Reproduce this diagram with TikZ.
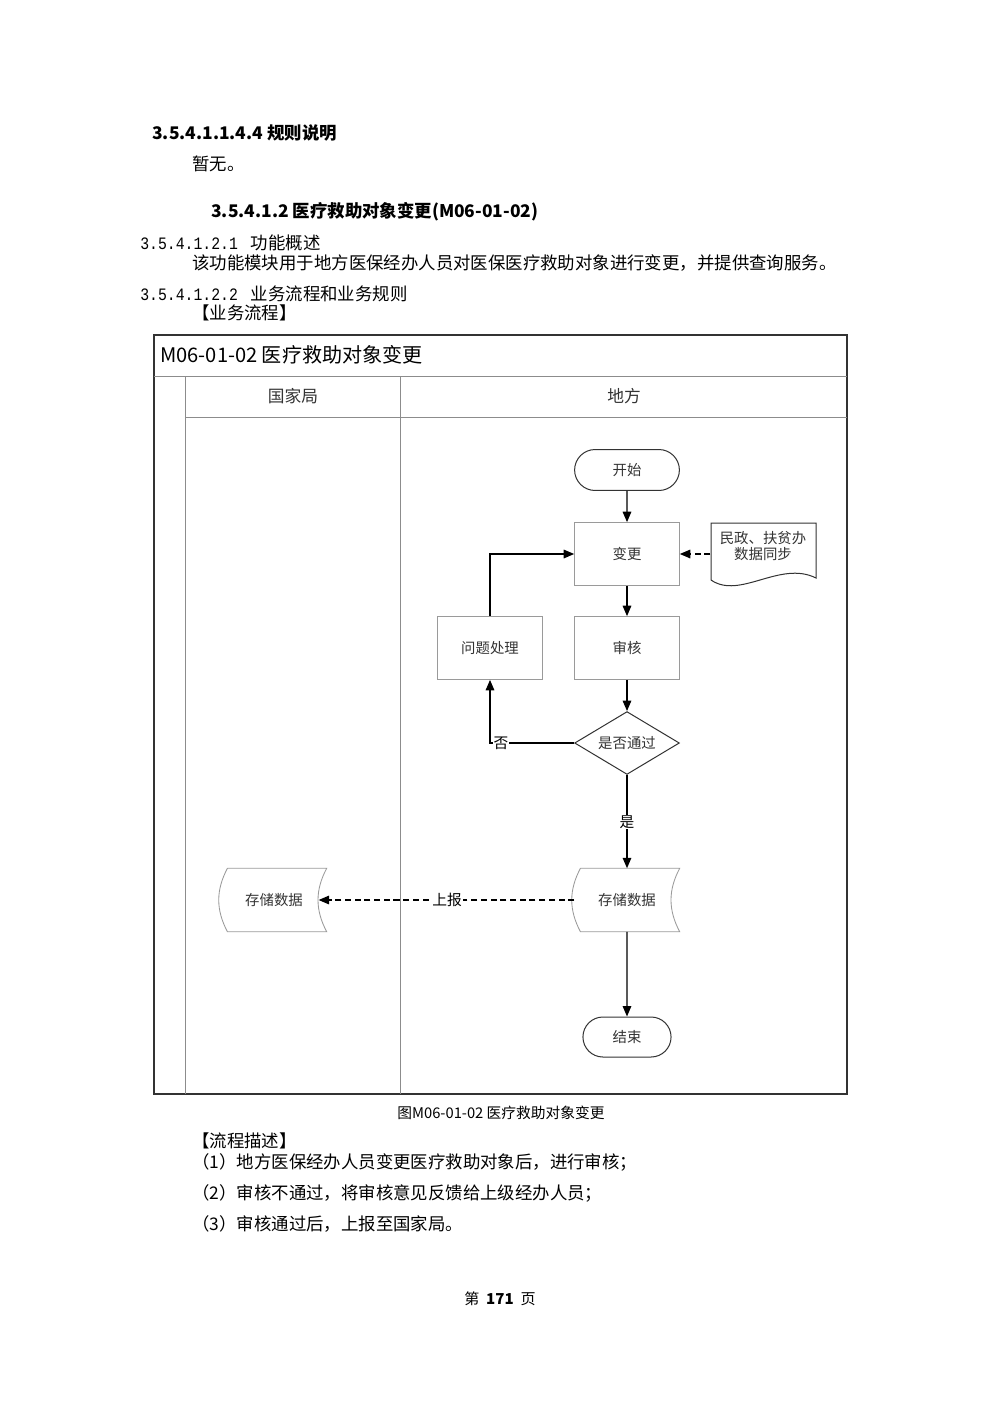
\documentclass[tikz,border=0pt]{standalone}
\usepackage{fontspec}
\setmainfont{Noto Sans CJK SC}
\newfontfamily\numfont[FakeStretch=0.85]{Liberation Mono}
\usetikzlibrary{shapes.geometric,shapes.misc,arrows.meta}

\definecolor{boxgray}{HTML}{9A9A9A}
\definecolor{lanegray}{HTML}{8C8C8C}
\definecolor{inkgray}{HTML}{333333}

% stored data outline round a node
\newcommand{\storeshape}[1]{%
  \draw[storeline] ([xshift=0.13cm]#1.north west) -- (#1.north east)
    to[bend right=28] (#1.south east) -- ([xshift=0.13cm]#1.south west)
    to[bend left=28] ([xshift=0.13cm]#1.north west);}

\begin{document}
\begin{tikzpicture}[x=0.021cm, y=-0.021cm, every node/.style={inner sep=0pt}]
\useasboundingbox[fill=white] (0,0) rectangle (1000,1415);
\tikzset{txt/.style={anchor=west, font=\fontsize{10.4}{12}\selectfont}}
\tikzset{small/.style={font=\fontsize{8.6}{10}\selectfont, text=inkgray}}

% page text
\node[txt, font=\fontsize{10.4}{12}\selectfont\bfseries] (h1) at (152,133) {3.5.4.1.1.4.4 规则说明};
\node[txt] (p1) at (192,164) {暂无。};
\node[txt, font=\fontsize{10.4}{12}\selectfont\bfseries] (h2) at (211,212) {3.5.4.1.2 医疗救助对象变更(M06-01-02)};
\node[txt] (h3) at (140,243) {{\numfont 3.5.4.1.2.1}\hspace{0.27cm}功能概述};
\node[txt] (p2) at (192,263) {该功能模块用于地方医保经办人员对医保医疗救助对象进行变更，并提供查询服务。};
\node[txt] (h4) at (140,294) {{\numfont 3.5.4.1.2.2}\hspace{0.27cm}业务流程和业务规则};
\node[txt] (p3) at (192,313) {【业务流程】};

% swimlane frame
\draw[inkgray, line width=0.7pt] (154,335) rectangle (847,1094);
\draw[lanegray, line width=0.45pt] (154,376) -- (847,376);
\draw[lanegray, line width=0.45pt] (185,417) -- (847,417);
\draw[lanegray, line width=0.45pt] (185,376) -- (185,1094);
\draw[lanegray, line width=0.45pt] (400,376) -- (400,1094);
\node[anchor=west, font=\fontsize{12}{14}\selectfont] (title) at (160,355) {M06-01-02\ 医疗救助对象变更};
\node[font=\fontsize{10}{12}\selectfont, text=inkgray] (lane1) at (293,396) {国家局};
\node[font=\fontsize{10}{12}\selectfont, text=inkgray] (lane2) at (624,396) {地方};

% flow nodes
\tikzset{box/.style={small, draw=boxgray, line width=0.5pt, minimum width=2.2cm, minimum height=1.32cm}}
\tikzset{term/.style={small, draw=inkgray, line width=0.6pt, rounded rectangle, minimum height=0.86cm}}
\tikzset{decide/.style={small, draw=inkgray, line width=0.6pt, diamond, aspect=1.67, minimum width=2.2cm, minimum height=1.32cm}}
\tikzset{store/.style={small, minimum width=2.2cm, minimum height=1.32cm}}
\tikzset{storeline/.style={boxgray, line width=0.5pt}}
\node[term, minimum width=2.2cm] (start) at (627,470) {开始};
\node[box] (change) at (627,554) {变更};
\node[box] (audit) at (627,648) {审核};
\node[box] (fix) at (490,648) {问题处理};
\node[decide] (pass) at (627,743) {是否通过};
\node[store] (store2) at (627,900) {存储数据};
\node[store] (store1) at (274,900) {存储数据};
\node[term, minimum width=1.85cm, minimum height=0.84cm] (end) at (627,1037) {结束};
\node[minimum width=2.2cm, minimum height=1.32cm] (sync) at (763,554) {};
\node[small, align=center, font=\fontsize{8.6}{9.6}\selectfont] (synctxt) at (763,546) {民政、扶贫办\\数据同步};
\storeshape{store1}
\storeshape{store2}
\draw[inkgray, line width=0.6pt] (711,580) -- (711,523) -- (816,523) -- (816,578)
  .. controls (780,560) and (740,600) .. (711,580);

% connectors
\tikzset{flow/.style={-{Triangle[length=0.22cm,width=0.18cm]}, line width=0.8pt}}
\tikzset{dashflow/.style={flow, dash pattern=on 3.6pt off 2.2pt}}
\path (start) edge [flow] (change);
\path (change) edge [flow] (audit);
\path (audit) edge [flow] (pass);
\path (pass) edge [flow] (store2);
\path (store2) edge [flow] (end);
\draw[flow] (pass.west) -| (fix.south);
\draw[flow] (fix.north) |- (change.west);
\path (sync.west) edge [dashflow] (change.east);
\draw[dashflow] (store2.west) -- ([xshift=-0.17cm]store1.east);

% connector labels
\tikzset{lbl/.style={fill=white, font=\fontsize{8.8}{10}\selectfont, inner sep=0.5pt}}
\node[lbl] (no) at (501,743) {否};
\node[lbl] (yes) at (627,822) {是};
\node[lbl] (report) at (447,900) {上报};

% caption and description
\node[font=\fontsize{8.8}{10}\selectfont] (cap) at (501,1113) {图M06-01-02\ 医疗救助对象变更};
\node[txt] (d0) at (192,1141) {【流程描述】};
\node[txt] (d1) at (192,1162) {（1）地方医保经办人员变更医疗救助对象后，进行审核；};
\node[txt] (d2) at (192,1193) {（2）审核不通过，将审核意见反馈给上级经办人员；};
\node[txt] (d3) at (192,1224) {（3）审核通过后，上报至国家局。};
\node[font=\fontsize{9}{10}\selectfont] (pg) at (500,1299) {第\ \ \textbf{171}\ \ 页};
\end{tikzpicture}
\end{document}
